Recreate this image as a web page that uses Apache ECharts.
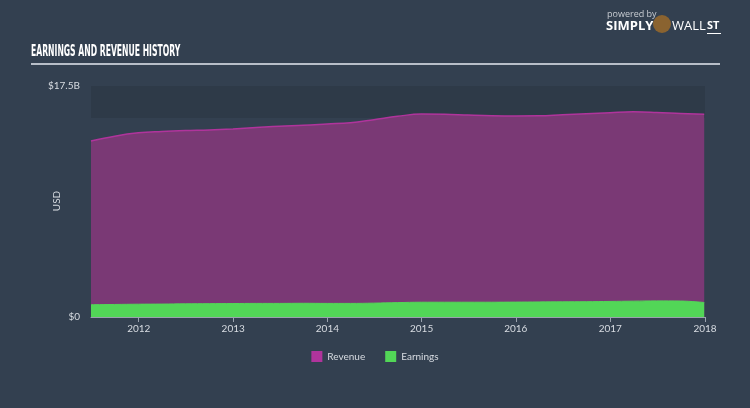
<!DOCTYPE html>
<html>
<head>
<meta charset="utf-8">
<script src="https://cdn.jsdelivr.net/npm/echarts@6/dist/echarts.min.js"></script>
<style>
html,body{margin:0;padding:0;background:#334050;}
#c{width:750px;height:408px;}
</style>
</head>
<body>
<div id="c"></div>
<script>
// Data (values in billions USD)
const dates = ['2011-06-30','2011-09-30','2011-12-31','2012-03-31','2012-06-30','2012-09-30','2012-12-31',
  '2013-03-31','2013-06-30','2013-09-30','2013-12-31','2014-03-31','2014-06-30','2014-09-30','2014-12-31',
  '2015-03-31','2015-06-30','2015-09-30','2015-12-31','2016-03-31','2016-06-30','2016-09-30','2016-12-31',
  '2017-03-31','2017-06-30','2017-09-30','2017-12-31'];
const revenue = [13.33,13.70,13.95,14.05,14.12,14.17,14.25,14.35,14.45,14.52,14.62,14.72,14.95,15.20,15.38,
  15.36,15.30,15.25,15.23,15.24,15.32,15.40,15.48,15.55,15.50,15.42,15.36];
const earnings = [0.93,0.95,0.97,0.98,1.00,1.01,1.02,1.03,1.03,1.04,1.03,1.03,1.05,1.09,1.12,
  1.12,1.12,1.12,1.13,1.14,1.15,1.16,1.18,1.20,1.22,1.21,1.10];
const yTicks = [0, 17.5];
const yTickLabels = ['$0', '$17.5B'];
const bandRange = [15.07, 17.5];
const xMin = '2011-06-30', xMax = '2018-01-03';

const chart = echarts.init(document.getElementById('c'));
const revData = dates.map((d,i)=>[d, revenue[i]]);
const earnData = dates.map((d,i)=>[d, earnings[i]]);
const YEAR = 365.25*24*3600*1000;

chart.setOption({
  backgroundColor: '#334050',
  animation: false,
  grid: {left: 91, right: 45, top: 86, bottom: 91},
  graphic: [
    {type:'text', x: 31, y: 44, scaleX: 0.48, style:{text:'EARNINGS AND REVENUE HISTORY', fill:'#ffffff',
      font:'bold 16px "DejaVu Sans", sans-serif'}},
    {type:'rect', shape:{x:31, y:63, width:689, height:2}, style:{fill:'#b8bec8'}},
    {type:'text', x: 57, y: 201, rotation: Math.PI/2, style:{text:'USD', fill:'#d8dce2', align:'center', verticalAlign:'middle',
      font:'10px Lato, sans-serif'}},
    {type:'text', left: 607, top: 10, style:{text:'powered by', fill:'#c8ccd2', font:'9px "Open Sans", sans-serif'}},
    {type:'text', left: 606, top: 20, style:{text:'SIMPLY', fill:'#ffffff', font:'bold 13px "Open Sans", sans-serif'}},
    {type:'circle', shape:{cx:662, cy:24, r:9}, style:{fill:'#8a6330'}},
    {type:'text', left: 672, top: 20, style:{text:'WALL', fill:'#ffffff', font:'13px "Open Sans", sans-serif'}},
    {type:'text', left: 707, top: 20, style:{text:'ST', fill:'#ffffff', font:'bold 11px "Open Sans", sans-serif'}},
    {type:'rect', shape:{x:707, y:33, width:14, height:1}, style:{fill:'#ffffff'}}
  ],
  legend: {
    bottom: 41, left: 'center', itemWidth: 11, itemHeight: 11, itemGap: 20,
    icon: 'rect',
    textStyle: {color:'#d8dce2', fontSize: 10, fontFamily: 'Lato, sans-serif'},
    data: [{name:'Revenue', itemStyle:{color:'#b0349c'}}, {name:'Earnings', itemStyle:{color:'#52d657'}}]
  },
  xAxis: {
    type: 'time', min: xMin, max: xMax,
    minInterval: YEAR*0.99, maxInterval: YEAR*1.01,
    axisLine: {show:true, lineStyle:{color:'#9aa2ae', width:1}},
    axisTick: {show:true, length:5, lineStyle:{color:'#9aa2ae'}},
    splitLine: {show:false},
    axisLabel: {color:'#d8dce2', fontSize: 10, fontFamily:'Lato, sans-serif', margin: 7,
      showMinLabel: false, showMaxLabel: true,
      formatter: function(v){ return String(new Date(v).getFullYear()); }}
  },
  yAxis: {
    type: 'value', min: yTicks[0], max: yTicks[1], interval: yTicks[1]-yTicks[0],
    axisLine: {show:false},
    axisTick: {show:false},
    splitLine: {show:false},
    axisLabel: {color:'#d8dce2', fontSize: 10, fontFamily:'Lato, sans-serif', margin: 11,
      formatter: function(v){ const i = yTicks.indexOf(v); return i>=0 ? yTickLabels[i] : ''; }}
  },
  series: [
    {
      name: 'Revenue', type: 'line', data: revData, smooth: 0.4, symbol: 'none',
      lineStyle: {color:'#b0349c', width: 1.5},
      itemStyle: {color:'#b0349c'},
      areaStyle: {color:'#7a3975', opacity: 1},
      z: 2,
      markArea: {silent: true, itemStyle:{color:'#2e3a48'}, data:[[{yAxis: bandRange[0]},{yAxis: bandRange[1]}]]}
    },
    {
      name: 'Earnings', type: 'line', data: earnData, smooth: 0.4, symbol: 'none',
      lineStyle: {color:'#52d657', width: 1},
      itemStyle: {color:'#52d657'},
      areaStyle: {color:'#52d657', opacity: 1},
      z: 3
    }
  ]
});
</script>
</body>
</html>
